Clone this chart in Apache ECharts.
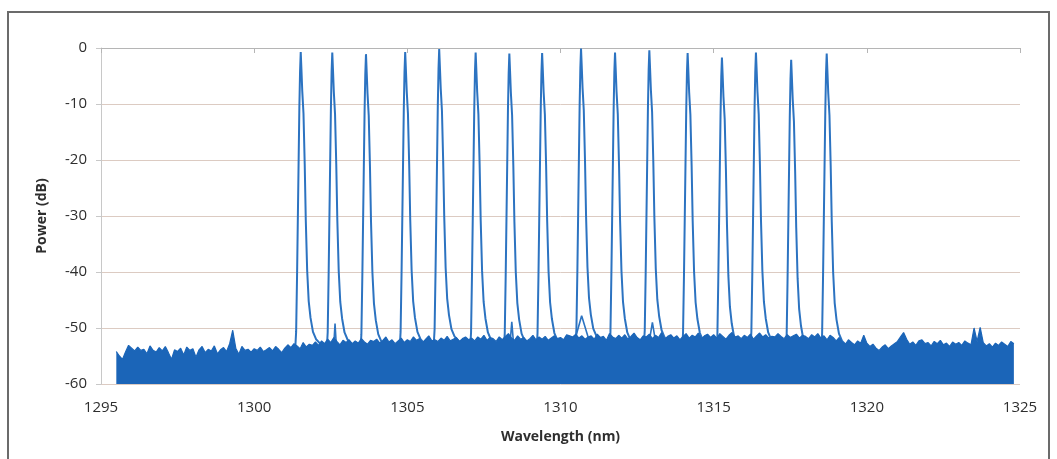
<!DOCTYPE html>
<html>
<head>
<meta charset="utf-8" />
<title>Power vs Wavelength</title>
<script src="https://cdn.jsdelivr.net/npm/echarts@6/dist/echarts.min.js"></script>
<style>
  html, body { margin: 0; padding: 0; background: #fff; }
  #chart { position: absolute; left: 0; top: 0; width: 1057px; height: 459px; }
</style>
</head>
<body>
<div id="chart"></div>
<script>
// axis ticks
const xTicks = [1295, 1300, 1305, 1310, 1315, 1320, 1325];
const yTicks = [0, -10, -20, -30, -40, -50, -60];

// laser lines: centre wavelength (nm) and top power (dB)
const peakCenters = [1301.52, 1302.55, 1303.65, 1304.93, 1306.04, 1307.23, 1308.33, 1309.40,
  1310.67, 1311.78, 1312.90, 1314.15, 1315.27, 1316.38, 1317.53, 1318.69];
const peakTops = [-0.7, -0.8, -1.1, -0.7, -0.2, -0.8, -1.0, -0.9,
  -0.1, -0.8, -0.4, -0.9, -1.7, -0.8, -2.1, -1.0];

// shape of one line: offset from centre (nm), drop below top (dB)
const shapeOffsets = [-0.18, -0.15, -0.12, -0.095, -0.07, -0.045, -0.022, 0,
  0.022, 0.05, 0.09, 0.13, 0.165, 0.21, 0.26, 0.32, 0.40, 0.50, 0.62, 0.75];
const shapeDrops = [-53, -50, -40, -30, -20, -10, -3.5, 0,
  -3, -7, -11, -20, -30, -39, -44.5, -47.5, -50, -51.3, -52, -52.8];

// small side bumps sitting on the floor
const bumpX = [1302.60, 1302.64, 1302.68, null, 1308.35, 1308.41, 1308.47, null,
  1310.45, 1310.69, 1310.95, null, 1312.88, 1313.00, 1313.12];
const bumpY = [-53, -49.2, -53, null, -53, -48.9, -53, null,
  -52.5, -47.8, -52.5, null, -53, -49, -53];

// noise floor, upper edge, every 0.1 nm from 1295.5 nm
const noiseStart = 1295.5;
const noiseStep = 0.1;
const noiseTop = [
  -54.2, -55.0, -55.6, -54.3, -53.1,
  -53.6, -54.1, -53.4, -54.0, -53.8, -54.6, -53.2, -54.0, -54.3, -53.5,
  -54.1, -53.3, -54.4, -55.6, -53.9, -54.2, -53.6, -54.8, -53.4, -54.0,
  -53.7, -55.2, -53.9, -53.3, -54.4, -53.8, -54.1, -53.2, -54.6, -53.9,
  -53.5, -54.2, -52.8, -50.4, -53.6, -54.7, -53.3, -54.0, -53.8, -54.3,
  -53.7, -54.0, -53.4, -54.2, -53.9, -53.5, -54.1, -53.3, -53.8, -54.4,
  -53.6, -53.0, -53.5, -52.8, -53.2, -53.7, -52.6, -53.4, -52.9, -53.1,
  -52.5, -53.1, -52.3, -52.8, -52.0, -52.6, -51.7, -52.4, -53.0, -52.2,
  -52.6, -52.1, -52.8, -52.3, -52.7, -51.9, -52.5, -52.9, -52.2, -52.4,
  -52.0, -52.7, -52.2, -51.6, -52.5, -52.1, -52.8, -52.3, -51.8, -52.6,
  -52.1, -52.4, -51.6, -52.2, -51.9, -52.6, -52.0, -51.4, -52.3, -52.1,
  -52.4, -51.8, -52.2, -51.5, -52.3, -52.0, -51.7, -52.4, -51.9, -51.6,
  -52.1, -51.8, -52.3, -51.6, -52.0, -51.3, -52.2, -51.7, -51.9, -52.4,
  -51.6, -52.1, -51.5, -51.0, -51.8, -52.2, -51.4, -52.0, -51.7, -52.3,
  -51.9, -51.3, -52.1, -51.6, -52.0, -51.5, -52.2, -51.8, -51.4, -51.9,
  -51.7, -52.1, -51.2, -51.4, -51.6, -51.1, -51.8, -51.4, -52.0, -51.6,
  -51.4, -52.0, -51.1, -51.7, -51.5, -52.2, -51.0, -51.6, -51.9, -51.3,
  -51.8, -51.2, -52.0, -51.5, -50.9, -51.7, -52.1, -51.4, -51.6, -51.1,
  -51.9, -51.3, -51.7, -50.8, -52.0, -51.5, -51.2, -51.8, -51.4, -52.1,
  -51.5, -51.0, -51.8, -51.3, -51.6, -50.9, -51.9, -51.4, -51.1, -51.7,
  -51.2, -51.8, -51.0, -51.5, -52.0, -51.3, -50.8, -51.6, -51.4, -51.9,
  -51.3, -51.7, -51.1, -52.0, -51.4, -50.9, -51.6, -51.2, -51.8, -51.5,
  -51.6, -51.0, -51.5, -51.9, -51.2, -51.7, -51.4, -51.1, -51.8, -51.3,
  -51.5, -51.9, -51.2, -51.6, -51.0, -51.8, -51.4, -52.1, -51.3, -51.7,
  -52.3, -51.7, -52.5, -52.9, -52.1, -52.6, -53.0, -52.3, -52.7, -51.3,
  -52.7, -53.3, -52.9, -53.6, -54.0, -53.4, -53.0, -53.7, -53.2, -52.8,
  -52.4, -51.6, -50.8, -52.0, -52.9, -52.5, -53.1, -52.3, -52.1, -52.8,
  -52.6, -53.2, -52.4, -52.8, -52.2, -53.0, -52.7, -53.3, -52.5, -52.9,
  -52.6, -53.1, -52.3, -52.7, -53.0, -50.0, -52.4, -49.9, -52.6, -53.2,
  -52.8, -53.4, -52.7, -53.1, -52.5, -52.9, -53.3, -52.4, -52.8
];

const fillColor = "#1b65b8";
const lineColor = "#2c73c1";
const textColor = "#2e2e2e";

const noiseData = noiseTop.map((v, i) => [+(noiseStart + i * noiseStep).toFixed(2), v]);

const series = [
  {
    name: "floor",
    type: "line",
    data: noiseData,
    showSymbol: false,
    lineStyle: { width: 1.2, color: fillColor },
    areaStyle: { color: fillColor, opacity: 1, origin: "start" },
    z: 3,
  },
];

// one line per laser
peakCenters.forEach((c, k) => {
  series.push({
    name: "line" + k,
    type: "line",
    data: shapeOffsets.map((o, i) => [c + o, peakTops[k] + shapeDrops[i]]),
    showSymbol: false,
    lineStyle: { width: 2, color: lineColor },
    z: 2,
  });
});

series.push({
  name: "bumps",
  type: "line",
  data: bumpX.map((x, i) => (x === null ? "-" : [x, bumpY[i]])),
  showSymbol: false,
  connectNulls: false,
  lineStyle: { width: 1.6, color: lineColor },
  z: 2,
});

const chart = echarts.init(document.getElementById("chart"));
chart.setOption({
  animation: false,
  // outer frame round the figure
  graphic: [
    {
      type: "rect",
      shape: { x: 8, y: 12, width: 1041, height: 470 },
      style: { fill: "none", stroke: "#6b6b6b", lineWidth: 2 },
      silent: true,
    },
  ],
  grid: { left: 101, right: 37, top: 48, bottom: 75 },
  xAxis: {
    type: "value",
    min: xTicks[0],
    max: xTicks[xTicks.length - 1],
    interval: 5,
    name: "Wavelength (nm)",
    nameLocation: "middle",
    nameGap: 46,
    nameTextStyle: { fontFamily: "Open Sans", fontWeight: "bold", fontSize: 14, color: textColor },
    axisLine: { show: true, lineStyle: { color: "#b5b5b5" } },
    axisTick: { show: true, length: 5, lineStyle: { color: "#b5b5b5" } },
    splitLine: { show: false },
    axisLabel: {
      fontFamily: "Open Sans", fontSize: 15, color: textColor, margin: 16,
      formatter: (v) => String(v),
    },
  },
  yAxis: {
    type: "value",
    min: yTicks[yTicks.length - 1],
    max: yTicks[0],
    interval: 10,
    name: "Power (dB)",
    nameLocation: "middle",
    nameGap: 52,
    nameTextStyle: { fontFamily: "Open Sans", fontWeight: "bold", fontSize: 14, color: textColor },
    axisLine: { show: true, lineStyle: { color: "#c8c8c8" } },
    axisTick: { show: true, length: 5, lineStyle: { color: "#c8c8c8" } },
    splitLine: { show: true, lineStyle: { color: "#dccbc2", width: 1 } },
    axisLabel: { fontFamily: "Open Sans", fontSize: 15, color: textColor, margin: 14 },
  },
  series,
});
</script>
</body>
</html>
